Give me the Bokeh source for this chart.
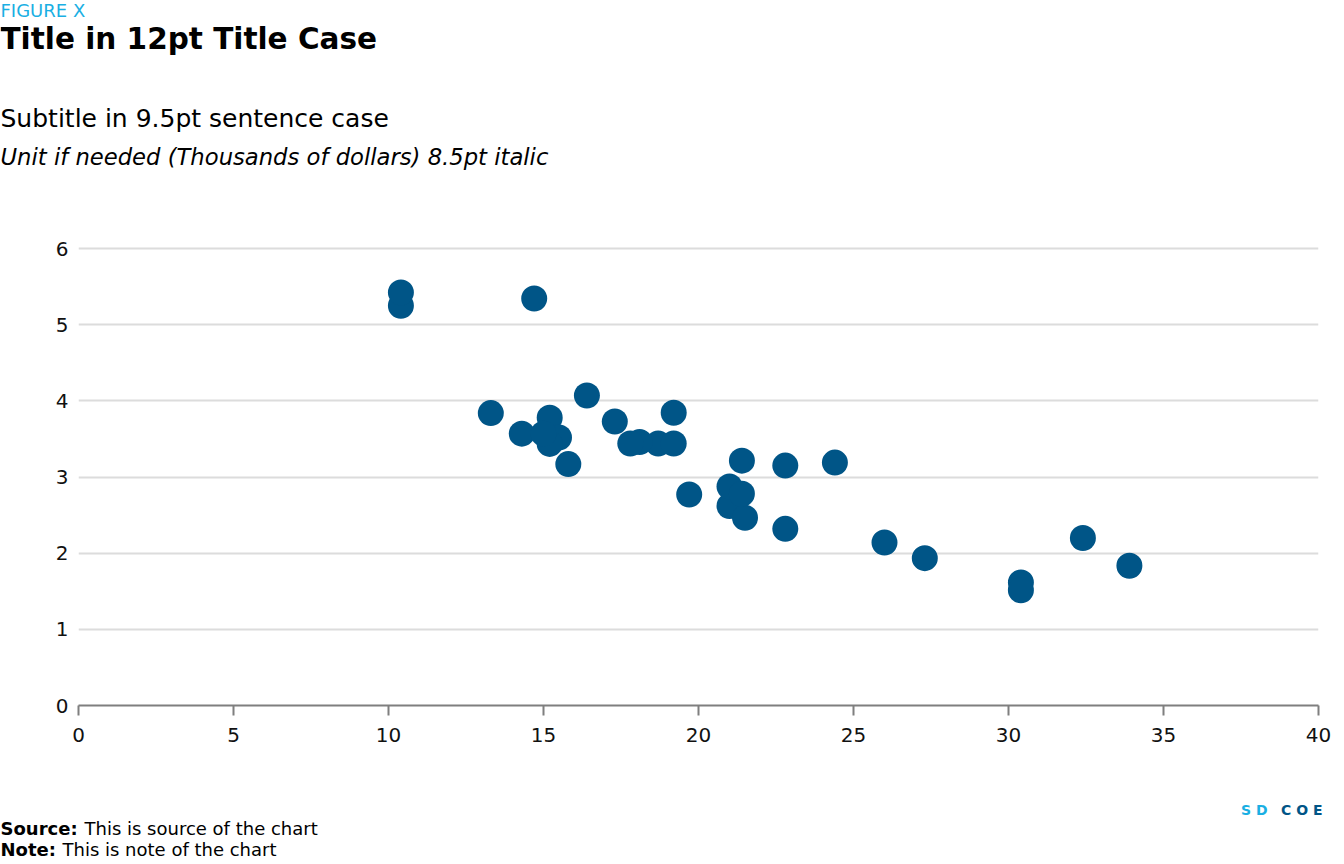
from bokeh.plotting import figure
from bokeh.layouts import column
from bokeh.models import Label, Range1d, FixedTicker, ColumnDataSource
from bokeh.embed import file_html
from bokeh.resources import INLINE

# mtcars: miles per gallon vs weight (1000 lbs)
cars = ["Mazda RX4", "Mazda RX4 Wag", "Datsun 710", "Hornet 4 Drive", "Hornet Sportabout",
        "Valiant", "Duster 360", "Merc 240D", "Merc 230", "Merc 280", "Merc 280C",
        "Merc 450SE", "Merc 450SL", "Merc 450SLC", "Cadillac Fleetwood", "Lincoln Continental",
        "Chrysler Imperial", "Fiat 128", "Honda Civic", "Toyota Corolla", "Toyota Corona",
        "Dodge Challenger", "AMC Javelin", "Camaro Z28", "Pontiac Firebird", "Fiat X1-9",
        "Porsche 914-2", "Lotus Europa", "Ford Pantera L", "Ferrari Dino", "Maserati Bora",
        "Volvo 142E"]
mpg = [21.0, 21.0, 22.8, 21.4, 18.7, 18.1, 14.3, 24.4, 22.8, 19.2, 17.8, 16.4, 17.3, 15.2,
       10.4, 10.4, 14.7, 32.4, 30.4, 33.9, 21.5, 15.5, 15.2, 13.3, 19.2, 27.3, 26.0, 30.4,
       15.8, 19.7, 15.0, 21.4]
wt = [2.620, 2.875, 2.320, 3.215, 3.440, 3.460, 3.570, 3.190, 3.150, 3.440, 3.440, 4.070,
      3.730, 3.780, 5.250, 5.424, 5.345, 2.200, 1.615, 1.835, 2.465, 3.520, 3.435, 3.840,
      3.845, 1.935, 2.140, 1.513, 3.170, 2.770, 3.570, 2.780]
x_ticks = [0, 5, 10, 15, 20, 25, 30, 35, 40]
y_ticks = [0, 1, 2, 3, 4, 5, 6]

FONT = "DejaVu Sans"
NAVY = "#005587"
SKY = "#1AAFE3"
W = 1344
HEAD_H, MAIN_H, FOOT_H = 200, 600, 64


def text_panel(height):
    f = figure(width=W, height=height, output_backend="svg", toolbar_location=None,
               x_range=Range1d(0, W), y_range=Range1d(height, 0),
               min_border=0, min_border_left=0, min_border_right=0,
               min_border_top=0, min_border_bottom=0,
               x_axis_location=None, y_axis_location=None)
    f.outline_line_color = None
    f.grid.grid_line_color = None
    f.background_fill_color = "white"
    f.border_fill_color = "white"
    return f


def add_label(f, text, px, py, size, color="#000000", style="normal", align="left"):
    f.add_layout(Label(x=px, y=py, text=text, text_font=FONT, text_font_size=size,
                       text_color=color, text_font_style=style, text_align=align,
                       text_baseline="alphabetic"))


# header
head = text_panel(HEAD_H)
add_label(head, "FIGURE X", 0, 10, "18px", SKY)
add_label(head, "Title in 12pt Title Case", 0, 38, "29.5px", style="bold")
add_label(head, "Subtitle in 9.5pt sentence case", 0, 118, "25px")
add_label(head, "Unit if needed (Thousands of dollars) 8.5pt italic", 0, 156, "22.7px", style="italic")

# main chart
src = ColumnDataSource(dict(mpg=mpg, wt=wt, car=cars))
p = figure(width=W, height=MAIN_H, output_backend="svg", toolbar_location=None,
           x_range=Range1d(0, 40), y_range=Range1d(0, 6.5),
           min_border_left=78, min_border_right=26, min_border_top=10, min_border_bottom=95)
p.outline_line_color = None
p.background_fill_color = "white"
p.border_fill_color = "white"

p.scatter("mpg", "wt", source=src, size=26, color=NAVY, line_color=None)

p.xaxis.ticker = FixedTicker(ticks=x_ticks)
p.yaxis.ticker = FixedTicker(ticks=y_ticks)
p.xaxis.axis_line_color = "#7f7f7f"
p.xaxis.axis_line_width = 2
p.xaxis.major_tick_line_color = "#7f7f7f"
p.xaxis.major_tick_line_width = 2
p.xaxis.major_tick_out = 10
p.xaxis.major_tick_in = 0
p.xaxis.minor_tick_line_color = None
p.xaxis.major_label_standoff = 12
p.yaxis.axis_line_color = None
p.yaxis.major_tick_line_color = None
p.yaxis.minor_tick_line_color = None
p.yaxis.major_label_standoff = 4
for ax in (p.xaxis, p.yaxis):
    ax.major_label_text_font = FONT
    ax.major_label_text_font_size = "20px"
    ax.major_label_text_color = "#111111"
p.xgrid.grid_line_color = None
p.ygrid.grid_line_color = "#dcdcdc"
p.ygrid.grid_line_width = 2

# footer
foot = text_panel(FOOT_H)
add_label(foot, "S D", 1267, 9, "14px", SKY, style="bold", align="right")
add_label(foot, "C O E", 1322, 9, "14px", NAVY, style="bold", align="right")
add_label(foot, "Source:", 0, 28, "18px", style="bold")
add_label(foot, "This is source of the chart", 84, 28, "18px")
add_label(foot, "Note:", 0, 49, "18px", style="bold")
add_label(foot, "This is note of the chart", 62, 49, "18px")

layout = column(column(head), column(p), column(foot), spacing=0)
html = file_html(layout, INLINE)
html = html.replace("<head>", "<head><style>html,body{margin:0;padding:0;}</style>", 1)
open("out.html", "w").write(html)
